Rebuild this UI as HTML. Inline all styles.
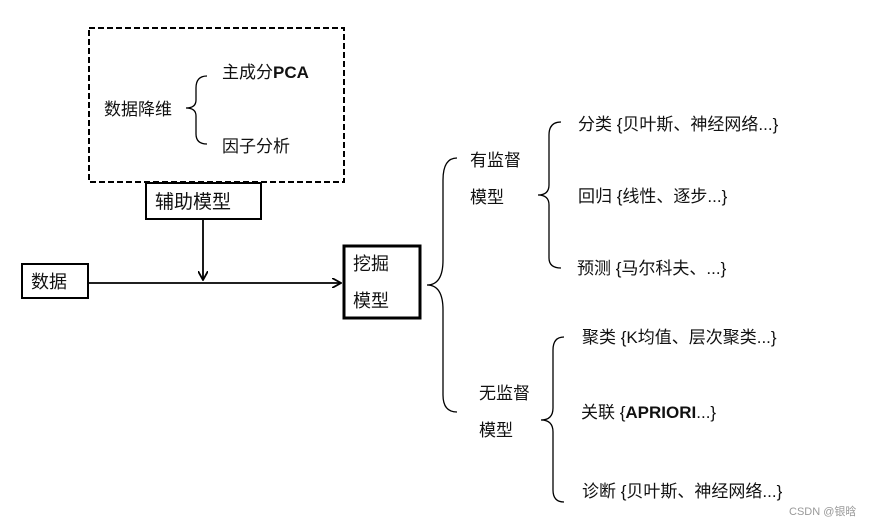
<!DOCTYPE html>
<html><head><meta charset="utf-8"><style>
body{margin:0;background:#fff}
svg text{font-family:"Liberation Sans","Noto Sans CJK SC",sans-serif;fill:#111}
</style></head><body>
<svg width="872" height="527" viewBox="0 0 872 527" xmlns="http://www.w3.org/2000/svg">
<defs><marker id="a" markerWidth="10" markerHeight="10" refX="9" refY="5" orient="auto" markerUnits="userSpaceOnUse"><path d="M0,0 L9,5 L0,10" fill="none" stroke="#000" stroke-width="1.8"/></marker></defs>
<rect x="89" y="28" width="255" height="154" fill="none" stroke="#000" stroke-width="2" stroke-dasharray="6,3"/>
<text x="104" y="115" font-size="17">数据降维</text>
<path d="M207,76 Q196,76 196,88 L196,100 Q196,108 186,108 Q196,108 196,116 L196,134 Q196,144 207,144" fill="none" stroke="#000" stroke-width="1.3"/>
<text x="222" y="78" font-size="17">主成分<tspan font-weight="bold">PCA</tspan></text>
<text x="222" y="152" font-size="17">因子分析</text>
<rect x="146" y="183" width="115" height="36" fill="#fff" stroke="#000" stroke-width="2"/>
<text x="155" y="208" font-size="19">辅助模型</text>
<line x1="203" y1="219" x2="203" y2="280" stroke="#000" stroke-width="1.8" marker-end="url(#a)"/>
<rect x="22" y="264" width="66" height="34" fill="#fff" stroke="#000" stroke-width="2"/>
<text x="31" y="288" font-size="18">数据</text>
<line x1="88" y1="283" x2="341" y2="283" stroke="#000" stroke-width="1.8" marker-end="url(#a)"/>
<rect x="344" y="246" width="76" height="72" fill="#fff" stroke="#000" stroke-width="3"/>
<text x="353" y="270" font-size="18">挖掘</text>
<text x="353" y="307" font-size="18">模型</text>
<path d="M457,158 Q443,158 443,180 L443,260 Q443,285 427,285 Q443,285 443,310 L443,395 Q443,412 457,412" fill="none" stroke="#000" stroke-width="1.3"/>
<text x="470" y="166" font-size="17">有监督</text>
<text x="470" y="203" font-size="17">模型</text>
<path d="M561,122 Q549,122 549,135 L549,185 Q549,195 538,195 Q549,195 549,205 L549,258 Q549,268 561,268" fill="none" stroke="#000" stroke-width="1.3"/>
<text x="578" y="130" font-size="17">分类 {贝叶斯、神经网络...}</text>
<text x="578" y="202" font-size="17">回归 {线性、逐步...}</text>
<text x="577" y="274" font-size="17">预测 {马尔科夫、...}</text>
<text x="479" y="399" font-size="17">无监督</text>
<text x="479" y="436" font-size="17">模型</text>
<path d="M564,337 Q553,337 553,350 L553,408 Q553,420 541,420 Q553,420 553,432 L553,490 Q553,502 564,502" fill="none" stroke="#000" stroke-width="1.3"/>
<text x="582" y="343" font-size="17">聚类 {K均值、层次聚类...}</text>
<text x="581" y="418" font-size="17">关联 {<tspan font-weight="bold">APRIORI</tspan>...}</text>
<text x="582" y="497" font-size="17">诊断 {贝叶斯、神经网络...}</text>
<text x="789" y="515" font-size="11" style="fill:#999">CSDN @银晗</text>
</svg>
</body></html>
